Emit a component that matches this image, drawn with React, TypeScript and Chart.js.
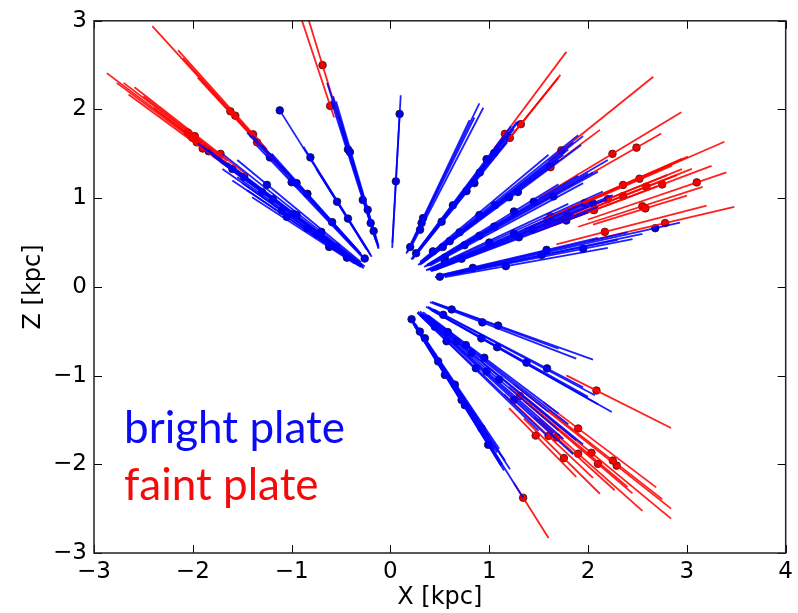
import React, { useEffect, useRef } from 'react';
import { Chart, registerables } from 'chart.js';

Chart.register(...registerables);

// [xStart, zStart, xEnd, zEnd, xMarker, zMarker]  (kpc)
type Seg = [number, number, number, number, number, number];

const xTicks = [-3, -2, -1, 0, 1, 2, 3, 4];
const zTicks = [-3, -2, -1, 0, 1, 2, 3];
const xTitle = 'X [kpc]';
const zTitle = 'Z [kpc]';
const legendLabels = ['bright plate', 'faint plate'];

const blueFanA: Seg[] = [
  [-0.28, 0.23, -1.9, 1.58, -1.84, 1.53],
  [-0.3, 0.25, -1.75, 1.45, -1.19, 0.99],
  [-0.32, 0.24, -1.6, 1.2, -1.05, 0.79],
  [-0.27, 0.21, -1.7, 1.33, -0.84, 0.66],
  [-0.33, 0.26, -1.55, 1.24, -0.74, 0.59],
  [-0.3, 0.225, -1.45, 1.09, -0.44, 0.33],
  [-0.35, 0.29, -1.8, 1.48, -1.3, 1.07],
  [-0.29, 0.25, -1.65, 1.4, -0.95, 0.81],
  [-0.4, 0.34, -1.85, 1.55, -1.48, 1.24],
  [-0.31, 0.24, -1.5, 1.17, -1.1, 0.86],
  [-0.36, 0.26, -1.4, 1.01, -0.62, 0.45],
  [-0.28, 0.23, -1.95, 1.62, -1.6, 1.33],
  [-0.34, 0.28, -1.72, 1.41, -0.55, 0.45],
  [-0.3, 0.25, -1.58, 1.33, -0.98, 0.82],
  [-0.3, 0.28, -1.55, 1.43, -1.25, 1.15],
  [-0.26, 0.23, -1.7, 1.5, -0.7, 0.62],
];
const redFanA: Seg[] = [
  [-2.87, 2.41, -1.55, 1.3, -2.01, 1.69],
  [-2.77, 2.3, -1.6, 1.33, -1.96, 1.63],
  [-2.59, 2.25, -1.45, 1.26, -1.72, 1.5],
  [-2.7, 2.3, -1.7, 1.45, -2.05, 1.74],
  [-2.65, 2.17, -1.5, 1.23, -1.9, 1.56],
  [-2.5, 2.15, -1.65, 1.42, -1.98, 1.7],
  [-2.4, 2.02, -1.4, 1.18, -2.0, 1.68],
];
const blueFanB: Seg[] = [
  [-1.4, 1.71, -0.26, 0.32, -0.26, 0.32],
  [-1.2, 1.5, -0.3, 0.375, -0.84, 1.05],
  [-1.35, 1.59, -0.28, 0.33, -1.0, 1.18],
  [-1.1, 1.36, -0.32, 0.4, -0.59, 0.73],
  [-1.45, 1.74, -0.35, 0.42, -1.22, 1.46],
  [-1.3, 1.6, -0.3, 0.37, -0.95, 1.17],
];
const redFanB: Seg[] = [
  [-2.41, 2.94, -1.1, 1.34, -1.62, 1.98],
  [-2.1, 2.58, -1.15, 1.41, -1.57, 1.93],
  [-2.15, 2.67, -1.25, 1.55, -1.39, 1.72],
  [-1.95, 2.36, -1.05, 1.27, -1.35, 1.63],
];
const blueFanC: Seg[] = [
  [-1.12, 1.99, -0.19, 0.34, -1.12, 1.99],
  [-0.88, 1.58, -0.22, 0.4, -0.81, 1.46],
  [-0.75, 1.33, -0.24, 0.42, -0.54, 0.96],
  [-0.7, 1.25, -0.2, 0.36, -0.43, 0.77],
];
const blueFanD: Seg[] = [
  [-0.64, 2.3, -0.12, 0.43, -0.43, 1.55],
  [-0.58, 2.15, -0.13, 0.48, -0.41, 1.52],
  [-0.6, 2.1, -0.15, 0.53, -0.28, 0.98],
  [-0.55, 2.09, -0.12, 0.46, -0.23, 0.87],
  [-0.5, 1.8, -0.14, 0.5, -0.2, 0.72],
  [-0.52, 1.92, -0.12, 0.44, -0.17, 0.63],
];
const redFanD: Seg[] = [
  [-0.96, 3.22, -0.57, 1.91, -0.61, 2.04],
  [-0.88, 3.2, -0.52, 1.89, -0.687, 2.5],
];
const blueFanE: Seg[] = [
  [0.104, 2.16, 0.018, 0.44, 0.093, 1.95],
  [0.095, 1.98, 0.02, 0.5, 0.055, 1.19],
];
const blueFanF: Seg[] = [
  [0.17, 0.39, 0.9, 2.07, 0.315, 0.72],
  [0.19, 0.41, 0.94, 2.02, 0.3, 0.645],
  [0.18, 0.405, 0.85, 1.91, 0.2, 0.45],
  [0.16, 0.376, 0.8, 1.88, 0.33, 0.776],
];
const blueFanG: Seg[] = [
  [0.23, 0.33, 1.28, 1.86, 0.632, 0.92],
  [0.25, 0.35, 1.2, 1.68, 0.77, 1.08],
  [0.22, 0.31, 1.25, 1.78, 0.905, 1.29],
  [0.24, 0.355, 1.22, 1.81, 0.973, 1.44],
  [0.26, 0.37, 1.1, 1.56, 0.518, 0.735],
  [0.21, 0.31, 1.15, 1.68, 0.26, 0.38],
  [0.28, 0.39, 1.18, 1.63, 0.85, 1.17],
  [0.24, 0.345, 1.3, 1.87, 1.05, 1.51],
];
const redFanG: Seg[] = [
  [1.05, 1.56, 1.78, 2.65, 1.158, 1.725],
  [1.0, 1.39, 1.72, 2.39, 1.208, 1.68],
  [1.1, 1.53, 1.7, 2.36, 1.32, 1.835],
];
const blueFanH: Seg[] = [
  [0.3, 0.25, 1.93, 1.6, 1.29, 1.07],
  [0.32, 0.28, 1.95, 1.7, 1.057, 0.92],
  [0.28, 0.246, 1.85, 1.63, 0.7, 0.616],
  [0.3, 0.28, 1.6, 1.49, 0.43, 0.4],
  [0.35, 0.3, 1.75, 1.49, 0.53, 0.45],
  [0.33, 0.3, 1.9, 1.71, 0.9, 0.81],
  [0.4, 0.344, 1.8, 1.55, 0.6, 0.516],
  [0.31, 0.26, 1.7, 1.43, 1.2, 1.01],
];
const redFanH: Seg[] = [
  [1.6, 1.42, 2.66, 2.37, 1.73, 1.54],
  [1.4, 1.17, 2.12, 1.77, 1.62, 1.35],
];
const blueFanI: Seg[] = [
  [0.36, 0.234, 2.2, 1.43, 1.05, 0.68],
  [0.38, 0.24, 2.05, 1.29, 0.75, 0.47],
  [0.34, 0.224, 1.9, 1.254, 1.45, 0.96],
  [0.4, 0.24, 1.95, 1.17, 0.55, 0.33],
  [0.37, 0.25, 1.7, 1.156, 1.25, 0.85],
  [0.42, 0.26, 2.1, 1.3, 1.65, 1.02],
  [0.39, 0.25, 2.0, 1.28, 0.9, 0.576],
];
const redFanI: Seg[] = [
  [1.5, 1.0, 2.944, 1.97, 2.247, 1.5],
  [1.45, 0.91, 2.74, 1.73, 2.49, 1.57],
];
const blueFanJ: Seg[] = [
  [0.42, 0.189, 2.19, 0.986, 1.44, 0.648],
  [0.4, 0.188, 2.05, 0.964, 1.59, 0.747],
  [0.45, 0.189, 2.0, 0.84, 1.78, 0.748],
  [0.38, 0.19, 2.15, 1.075, 1.0, 0.5],
  [0.43, 0.189, 1.85, 0.814, 0.72, 0.317],
  [0.4, 0.192, 1.95, 0.936, 1.25, 0.6],
  [0.36, 0.187, 1.8, 0.936, 0.55, 0.286],
  [0.44, 0.202, 2.25, 1.035, 2.05, 0.943],
  [0.41, 0.176, 2.1, 0.903, 1.3, 0.559],
];
const redFanJ: Seg[] = [
  [1.6, 0.774, 3.38, 1.636, 2.52, 1.22],
  [1.75, 0.854, 3.01, 1.469, 2.354, 1.149],
  [1.65, 0.693, 3.25, 1.365, 2.75, 1.155],
  [1.7, 0.741, 3.05, 1.33, 2.59, 1.13],
  [2.0, 0.76, 3.4, 1.292, 3.1, 1.178],
  [1.55, 0.674, 2.9, 1.26, 2.354, 1.024],
  [1.35, 0.648, 2.85, 1.368, 1.967, 0.944],
  [1.45, 0.609, 2.7, 1.134, 2.06, 0.865],
  [1.3, 0.585, 2.95, 1.328, 1.79, 0.806],
  [1.9, 0.678, 3.16, 1.128, 2.55, 0.91],
  [2.05, 0.703, 3.0, 1.03, 2.58, 0.885],
  [1.4, 0.63, 2.8, 1.26, 2.2, 0.99],
  [1.55, 0.76, 2.95, 1.445, 1.62, 0.794],
];
const blueFanK: Seg[] = [
  [0.45, 0.111, 2.93, 0.724, 2.68, 0.662],
  [0.48, 0.11, 2.3, 0.529, 0.5, 0.115],
  [0.5, 0.128, 2.4, 0.614, 0.834, 0.214],
  [0.55, 0.11, 2.2, 0.44, 1.168, 0.234],
  [0.52, 0.122, 2.55, 0.599, 1.53, 0.36],
  [0.47, 0.124, 2.1, 0.554, 1.58, 0.417],
  [0.6, 0.132, 2.45, 0.539, 1.95, 0.429],
];
const redFanK: Seg[] = [
  [2.02, 0.523, 3.48, 0.901, 2.78, 0.72],
  [1.68, 0.48, 3.2, 0.915, 2.17, 0.62],
];
const blueFanL: Seg[] = [
  [0.42, -0.168, 2.05, -0.82, 1.09, -0.436],
  [0.4, -0.172, 1.88, -0.808, 0.93, -0.4],
  [0.45, -0.185, 1.7, -0.697, 0.62, -0.254],
];
const blueFanM: Seg[] = [
  [0.38, -0.224, 2.07, -1.221, 0.534, -0.315],
  [0.4, -0.252, 2.24, -1.411, 0.92, -0.58],
  [0.42, -0.265, 2.1, -1.323, 1.08, -0.68],
  [0.36, -0.223, 2.0, -1.24, 1.377, -0.854],
  [0.44, -0.255, 1.95, -1.131, 1.585, -0.919],
];
const redFanM: Seg[] = [
  [1.78, -0.997, 2.84, -1.59, 2.085, -1.168],
];
const blueFanN: Seg[] = [
  [0.3, -0.276, 1.88, -1.73, 0.67, -0.616],
  [0.28, -0.28, 1.65, -1.65, 0.45, -0.45],
  [0.33, -0.284, 1.8, -1.548, 0.763, -0.656],
  [0.29, -0.307, 1.58, -1.675, 0.865, -0.917],
  [0.31, -0.304, 1.75, -1.715, 0.973, -0.954],
  [0.35, -0.319, 1.95, -1.775, 0.82, -0.746],
  [0.27, -0.29, 1.5, -1.62, 0.568, -0.613],
  [0.32, -0.304, 1.7, -1.615, 1.1, -1.045],
  [0.36, -0.317, 1.6, -1.408, 0.58, -0.51],
  [0.3, -0.306, 1.85, -1.887, 1.25, -1.275],
  [0.38, -0.319, 1.7, -1.428, 0.95, -0.798],
];
const redFanN: Seg[] = [
  [1.25, -1.1, 2.84, -2.5, 2.29, -2.015],
  [1.3, -1.196, 2.84, -2.613, 2.034, -1.871],
  [1.55, -1.302, 2.69, -2.26, 1.9, -1.596],
  [1.2, -1.128, 2.4, -2.256, 1.31, -1.231],
  [1.45, -1.465, 2.27, -2.293, 1.68, -1.697],
  [1.35, -1.485, 2.12, -2.332, 1.755, -1.93],
  [1.2, -1.368, 1.88, -2.143, 1.47, -1.676],
  [1.5, -1.485, 2.55, -2.525, 1.9, -1.881],
  [1.35, -1.283, 2.45, -2.328, 2.1, -1.995],
  [1.6, -1.392, 2.75, -2.393, 2.25, -1.958],
  [1.15, -1.208, 2.05, -2.153, 1.6, -1.68],
];
const blueFanO: Seg[] = [
  [0.21, -0.357, 1.21, -2.057, 0.214, -0.364],
  [0.24, -0.406, 1.16, -1.96, 0.298, -0.504],
  [0.25, -0.415, 1.1, -1.826, 0.349, -0.579],
  [0.22, -0.383, 1.05, -1.827, 0.483, -0.84],
  [0.23, -0.414, 1.12, -2.016, 0.551, -0.992],
  [0.26, -0.439, 1.0, -1.69, 0.652, -1.102],
  [0.24, -0.425, 1.13, -2.0, 0.753, -1.333],
  [0.23, -0.398, 1.08, -1.868, 0.922, -1.595],
  [0.25, -0.45, 1.15, -2.07, 0.989, -1.78],
  [0.22, -0.389, 1.343, -2.377, 0.72, -1.274],
];
const redFanO: Seg[] = [
  [1.25, -2.21, 1.6, -2.832, 1.343, -2.377],
];

const blueFans = [blueFanA, blueFanB, blueFanC, blueFanD, blueFanE, blueFanF, blueFanG, blueFanH, blueFanI, blueFanJ, blueFanK, blueFanL, blueFanM, blueFanN, blueFanO];
const redFans = [redFanA, redFanB, redFanD, redFanG, redFanH, redFanI, redFanJ, redFanK, redFanM, redFanN, redFanO];

const BLUE_LINE = 'rgba(0,0,255,0.88)';
const RED_LINE = 'rgba(255,0,0,0.88)';

export default function App() {
  const ref = useRef<HTMLCanvasElement>(null);

  useEffect(() => {
    document.body.style.margin = '0';
    const canvas = ref.current;
    if (!canvas) return;

    const blueSegs = blueFans.flat();
    const redSegs = redFans.flat();

    const lineSet = (s: Seg, color: string) => ({
      data: [{ x: s[0], y: s[1] }, { x: s[2], y: s[3] }],
      showLine: true,
      borderColor: color,
      borderWidth: 1.8,
      pointRadius: 0,
      pointHoverRadius: 0,
      fill: false,
    });

    const datasets: any[] = [
      ...blueSegs.map((s) => lineSet(s, BLUE_LINE)),
      ...redSegs.map((s) => lineSet(s, RED_LINE)),
      {
        data: blueSegs.map((s) => ({ x: s[4], y: s[5] })),
        showLine: false,
        pointRadius: 3.8,
        pointBackgroundColor: 'rgb(0,0,220)',
        pointBorderColor: 'rgba(20,20,40,0.8)',
        pointBorderWidth: 1,
      },
      {
        data: redSegs.map((s) => ({ x: s[4], y: s[5] })),
        showLine: false,
        pointRadius: 3.8,
        pointBackgroundColor: 'rgb(240,0,0)',
        pointBorderColor: 'rgba(60,20,20,0.8)',
        pointBorderWidth: 1,
      },
    ];

    const fmt = (v: any) => String(v).replace('-', '\u2212');

    const framePlugin = {
      id: 'frame',
      afterDraw(chart: any) {
        const { ctx, chartArea } = chart;
        const { left, right, top, bottom } = chartArea;
        const xs = chart.scales.x;
        const ys = chart.scales.y;
        ctx.save();
        ctx.strokeStyle = '#000';
        ctx.lineWidth = 1;
        ctx.beginPath();
        for (const v of xTicks) {
          const p = Math.round(xs.getPixelForValue(v)) + 0.5;
          ctx.moveTo(p, bottom);
          ctx.lineTo(p, bottom - 8);
          ctx.moveTo(p, top);
          ctx.lineTo(p, top + 8);
        }
        for (const v of zTicks) {
          const p = Math.round(ys.getPixelForValue(v)) + 0.5;
          ctx.moveTo(left, p);
          ctx.lineTo(left + 8, p);
          ctx.moveTo(right, p);
          ctx.lineTo(right - 8, p);
        }
        ctx.stroke();
        ctx.lineWidth = 1.5;
        ctx.strokeStyle = '#222';
        ctx.strokeRect(left, top, right - left, bottom - top);

        ctx.font = '44px Lato, "Open Sans", sans-serif';
        ctx.textAlign = 'left';
        ctx.textBaseline = 'alphabetic';
        ctx.fillStyle = 'rgb(10,10,245)';
        ctx.fillText(legendLabels[0], left + 30, bottom - 110);
        ctx.fillStyle = 'rgb(245,10,10)';
        ctx.fillText(legendLabels[1], left + 30, bottom - 53);
        ctx.restore();
      },
    };

    const chart = new Chart(canvas, {
      type: 'scatter',
      data: { datasets },
      options: {
        animation: false,
        responsive: false,
        devicePixelRatio: 1,
        layout: { padding: { top: 20, right: 12, left: 0, bottom: 0 } },
        plugins: { legend: { display: false }, tooltip: { enabled: false } },
        events: [],
        scales: {
          x: {
            type: 'linear',
            min: -3,
            max: 4,
            grid: { display: false, drawTicks: false },
            border: { display: false },
            afterFit: (s: any) => { s.height = 60; },
            ticks: {
              stepSize: 1,
              padding: 5,
              color: '#000',
              font: { family: 'DejaVu Sans', size: 23 },
              callback: fmt,
            },
            title: {
              display: true,
              text: xTitle,
              color: '#000',
              font: { family: 'DejaVu Sans', size: 24, lineHeight: 1 },
              padding: { top: 0, bottom: 3 },
            },
          },
          y: {
            type: 'linear',
            min: -3,
            max: 3,
            grid: { display: false, drawTicks: false },
            border: { display: false },
            afterFit: (s: any) => { s.width = 94; },
            ticks: {
              stepSize: 1,
              padding: 7,
              color: '#000',
              font: { family: 'DejaVu Sans', size: 23 },
              callback: fmt,
            },
            title: {
              display: true,
              text: zTitle,
              color: '#000',
              font: { family: 'DejaVu Sans', size: 24, lineHeight: 1 },
              padding: { top: 22, bottom: 0 },
            },
          },
        },
      },
      plugins: [framePlugin],
    } as any);

    return () => chart.destroy();
  }, []);

  return (
    <div style={{ position: 'fixed', left: 0, top: 0, width: 798, height: 613, background: '#fff' }}>
      <canvas ref={ref} width={798} height={613} style={{ display: 'block', width: 798, height: 613 }} />
    </div>
  );
}
